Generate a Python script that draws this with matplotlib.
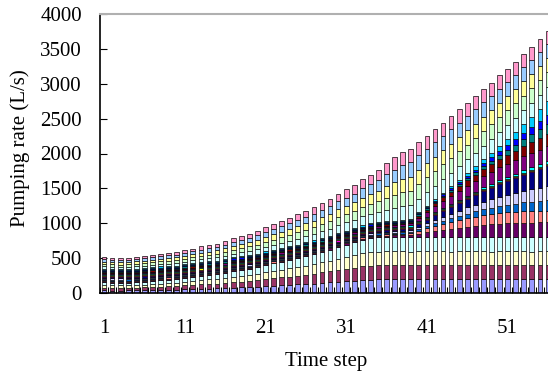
import numpy as np
import matplotlib
matplotlib.use("Agg")
import matplotlib.pyplot as plt

plt.rcParams['font.family'] = ['Liberation Serif', 'DejaVu Serif']

time_steps = np.arange(1, 57)

# pumping rate of each well (L/s), bottom of the stack first
periwinkle = [36, 35, 35, 36, 37, 38, 41, 43, 46, 48, 52, 55, 59, 63, 66, 70, 76, 80, 85, 91,
              97, 103, 109, 115, 122, 129, 136, 144, 152, 161, 169, 176, 185, 191, 195,
              195, 196, 195, 194, 195, 196, 195, 195, 194, 195, 196, 195, 195, 194, 195, 196,
              195, 195, 194, 195, 195]
plum = [40, 39, 38, 39, 41, 42, 45, 47, 50, 52, 56, 59, 63, 67, 70, 74, 80, 84, 89, 95,
        102, 108, 114, 121, 128, 135, 142, 150, 159, 168, 177, 186, 195, 201, 204,
        205, 205, 206, 204, 205, 205, 206, 205, 204, 205, 205, 206, 205, 204, 205, 205,
        206, 205, 205, 204, 205]
ivory = [37, 37, 37, 36, 38, 40, 42, 45, 47, 49, 53, 56, 60, 64, 67, 71, 77, 81, 86, 92,
         99, 105, 111, 117, 123, 130, 137, 145, 154, 163, 171, 179, 187, 192, 195,
         195, 194, 195, 196, 195, 195, 194, 195, 196, 195, 195, 194, 195, 195, 196, 195,
         194, 195, 195, 196, 195]
lt_turq = [39, 38, 38, 38, 40, 41, 44, 46, 49, 51, 55, 58, 62, 66, 69, 73, 79, 83, 88, 94,
           101, 107, 113, 119, 126, 133, 141, 149, 158, 167, 176, 185, 194, 200, 204,
           205, 206, 205, 205, 204, 205, 206, 205, 205, 204, 205, 205, 206, 205, 205, 204,
           205, 206, 205, 205, 205]
dk_purple = [15, 15, 14, 15, 16, 15, 15, 16, 15, 15, 16, 15, 15, 14, 15, 16, 15, 15, 16, 15,
             15, 14, 15, 16, 15, 15, 16, 15, 16, 17, 17, 18, 19, 20, 21, 22, 24, 26,
             31, 51, 69, 87, 105, 121, 137, 151, 165, 177, 187, 195, 201, 205, 209, 211, 213, 215]
coral = [15, 14, 15, 15, 16, 15, 14, 15, 16, 15, 15, 16, 15, 14, 15, 15, 16, 15, 15, 14,
         15, 16, 15, 15, 14, 15, 16, 15, 15, 16, 16, 17, 17, 18, 19, 20, 22, 24,
         27, 42, 56, 69, 83, 95, 107, 117, 128, 137, 144, 150, 155, 158, 161, 162, 164, 165]
ocean = [15, 15, 16, 15, 14, 15, 15, 16, 15, 15, 14, 15, 16, 15, 15, 14, 15, 16, 15, 15,
         16, 15, 14, 15, 15, 16, 15, 15, 14, 15, 15, 16, 15, 16, 16, 17, 17, 18,
         20, 27, 33, 41, 48, 55, 62, 70, 77, 86, 94, 102, 110, 119, 128, 137, 146, 155]
ice_blue = [16, 15, 15, 14, 15, 16, 15, 15, 14, 15, 15, 16, 15, 15, 14, 15, 16, 15, 15, 14,
            15, 15, 16, 15, 14, 15, 15, 16, 15, 15, 16, 15, 16, 17, 17, 18, 19, 20,
            22, 31, 39, 49, 58, 68, 77, 87, 97, 108, 119, 129, 141, 152, 164, 176, 189, 200]
navy = [15, 16, 15, 15, 14, 15, 16, 15, 15, 15, 14, 15, 16, 15, 15, 16, 15, 14, 15, 16,
        15, 15, 14, 15, 16, 15, 15, 16, 15, 15, 16, 16, 17, 18, 19, 20, 21, 23,
        25, 38, 50, 65, 78, 93, 106, 121, 135, 151, 167, 182, 199, 215, 233, 250, 268, 285]
magenta = [15, 15, 14, 15, 15, 16, 15, 15, 14, 15, 15, 16, 15, 15, 14, 15, 15, 16, 15, 15,
           14, 15, 15, 16, 15, 15, 14, 15, 15, 16, 15, 15, 14, 15, 15, 16, 15, 15, 14, 15,
           15, 16, 15, 15, 14, 15, 16, 15, 15, 16, 15, 16, 15, 16, 16, 16]
yellow = [16, 15, 15, 14, 15, 15, 16, 15, 15, 14, 15, 15, 16, 15, 15, 14, 15, 15, 16, 15,
          15, 14, 15, 15, 16, 15, 15, 14, 15, 15, 16, 15, 15, 14, 15, 15, 16, 15, 15, 14,
          15, 16, 15, 15, 16, 15, 15, 16, 15, 16, 15, 16, 16, 15, 16, 16]
turquoise = [15, 15, 16, 15, 15, 14, 15, 16, 15, 15, 15, 14, 15, 15, 16, 15, 15, 14, 15, 16,
             15, 15, 14, 15, 16, 15, 15, 15, 14, 15, 16, 15, 15, 14, 15, 15, 16, 15,
             15, 15, 16, 16, 17, 17, 18, 19, 20, 22, 23, 26, 28, 31, 34, 37, 41, 45]
violet = [15, 14, 15, 16, 15, 15, 14, 15, 16, 15, 15, 15, 16, 15, 14, 15, 15, 16, 15, 15,
          14, 15, 16, 15, 15, 16, 15, 14, 15, 16, 16, 17, 18, 19, 20, 22, 24, 26,
          30, 49, 66, 83, 101, 116, 131, 144, 158, 169, 178, 186, 192, 196, 199, 201, 203, 205]
dk_red = [15, 16, 15, 15, 14, 15, 16, 15, 15, 14, 15, 15, 16, 15, 15, 14, 15, 16, 15, 15,
          16, 15, 14, 15, 15, 16, 15, 15, 14, 15, 15, 16, 16, 17, 17, 18, 19, 20,
          21, 29, 36, 45, 52, 61, 69, 78, 86, 96, 105, 114, 124, 133, 144, 154, 165, 175]
teal = [14, 15, 15, 16, 15, 15, 14, 15, 15, 16, 15, 15, 14, 15, 16, 15, 15, 14, 15, 15,
        16, 15, 15, 14, 15, 16, 15, 15, 14, 15, 15, 16, 15, 15, 14, 15, 15, 15,
        15, 16, 18, 19, 22, 24, 29, 33, 38, 45, 53, 62, 73, 85, 100, 116, 132, 150]
blue = [15, 15, 14, 15, 16, 15, 15, 16, 14, 15, 15, 16, 15, 15, 14, 15, 16, 15, 15, 14,
        15, 15, 16, 15, 15, 14, 15, 16, 15, 15, 14, 15, 15, 16, 15, 15, 14, 15,
        15, 16, 17, 18, 21, 23, 27, 30, 35, 40, 47, 55, 64, 75, 87, 101, 115, 130]
sky_blue = [16, 15, 15, 14, 15, 16, 15, 15, 14, 15, 16, 15, 15, 14, 15, 15, 16, 15, 15, 14,
            15, 16, 15, 15, 14, 15, 16, 15, 15, 16, 15, 14, 15, 16, 15, 15, 16, 15,
            15, 17, 19, 21, 24, 28, 34, 39, 46, 56, 67, 80, 95, 111, 132, 154, 176, 200]
lt_turq2 = [32, 32, 31, 32, 33, 33, 35, 36, 37, 38, 40, 41, 44, 46, 48, 51, 54, 57, 60, 64,
            68, 73, 77, 82, 86, 90, 94, 100, 106, 112, 117, 122, 132, 139, 150, 166, 180, 194,
            195, 195, 196, 195, 194, 195, 195, 196, 195, 195, 194, 195, 195, 196, 195, 195, 194, 195]
lt_green = [34, 34, 33, 34, 35, 35, 37, 38, 39, 40, 42, 43, 46, 48, 50, 53, 56, 59, 62, 66,
            70, 75, 79, 84, 88, 92, 96, 102, 108, 114, 119, 124, 134, 141, 152, 169, 184, 199,
            208, 210, 210, 211, 210, 209, 210, 210, 211, 210, 210, 209, 210, 210, 211, 210, 210, 210]
lt_yellow = [33, 33, 32, 33, 34, 34, 36, 37, 38, 39, 41, 42, 45, 47, 49, 52, 55, 58, 61, 65,
             69, 74, 78, 83, 87, 91, 95, 101, 107, 113, 118, 123, 133, 140, 151, 168, 182, 198,
             203, 205, 205, 204, 205, 206, 205, 205, 204, 205, 205, 206, 205, 205, 204, 205, 205, 205]
pale_blue = [34, 33, 33, 33, 34, 35, 36, 38, 39, 39, 42, 43, 45, 48, 49, 52, 56, 58, 62, 65,
             70, 74, 79, 83, 88, 92, 96, 101, 108, 114, 119, 124, 134, 140, 152, 168, 183, 198,
             202, 204, 205, 205, 206, 205, 205, 204, 205, 205, 206, 205, 205, 204, 205, 205, 206, 205]
rose = [32, 32, 31, 32, 33, 33, 35, 36, 37, 38, 40, 41, 44, 46, 48, 51, 54, 57, 60, 64,
        68, 73, 76, 81, 86, 90, 94, 100, 106, 112, 117, 122, 131, 138, 149, 165, 179, 188,
        190, 190, 191, 190, 189, 190, 190, 191, 190, 190, 189, 190, 190, 191, 190, 190, 189, 190]

series = [periwinkle, plum, ivory, lt_turq, dk_purple, coral, ocean, ice_blue, navy,
          magenta, yellow, turquoise, violet, dk_red, teal, blue, sky_blue,
          lt_turq2, lt_green, lt_yellow, pale_blue, rose]
colors = ['#9999FF', '#993366', '#FFFFCC', '#CCFFFF', '#660066', '#FF8080', '#0066CC',
          '#CCCCFF', '#000080', '#FF00FF', '#FFFF00', '#00FFFF', '#800080', '#800000',
          '#008080', '#0000FF', '#00CCFF', '#CCFFFF', '#CCFFCC', '#FFFF99', '#99CCFF',
          '#FF99CC']
assert all(len(s) == len(time_steps) for s in series)

fig = plt.figure(figsize=(5.48, 3.76), dpi=100)
ax = fig.add_axes([100 / 548, 83 / 376, 452 / 548, 279 / 376])

w = 0.58
total = np.sum(series, axis=0)
# drop shadow behind each column
ax.bar(time_steps + 0.12, total, width=w, color='#b8b8b8', linewidth=0, zorder=1)

bottom = np.zeros(len(time_steps))
for vals, c in zip(series, colors):
    ax.bar(time_steps, vals, bottom=bottom, width=w, color=c,
           edgecolor='black', linewidth=0.45, zorder=2)
    bottom += vals

ax.set_xlim(0.5, 56.5)
ax.set_ylim(0, 4000)
ax.set_yticks(np.arange(0, 4001, 500))
ax.set_xticks([1, 11, 21, 31, 41, 51])
ax.set_xticks(np.arange(0.5, 57, 1), minor=True)
ax.tick_params(axis='x', which='major', length=0, pad=19, labelsize=15)
ax.tick_params(axis='x', which='minor', direction='in', length=4, width=0.8)
ax.tick_params(axis='y', direction='in', length=5, width=0.8, pad=13, labelsize=15)

ax.spines['left'].set_linewidth(1.2)
ax.spines['bottom'].set_linewidth(1.2)
ax.spines['top'].set_color('#b0b0b0')
ax.spines['top'].set_linewidth(1.5)
ax.spines['right'].set_visible(False)

ax.set_xlabel('Time step', fontsize=15)
ax.set_ylabel('Pumping rate (L/s)', fontsize=15)
ax.xaxis.set_label_coords(226 / 452, -59 / 279)
ax.yaxis.set_label_coords(-70 / 452, 0.52)

fig.savefig('out.png', dpi=100)
